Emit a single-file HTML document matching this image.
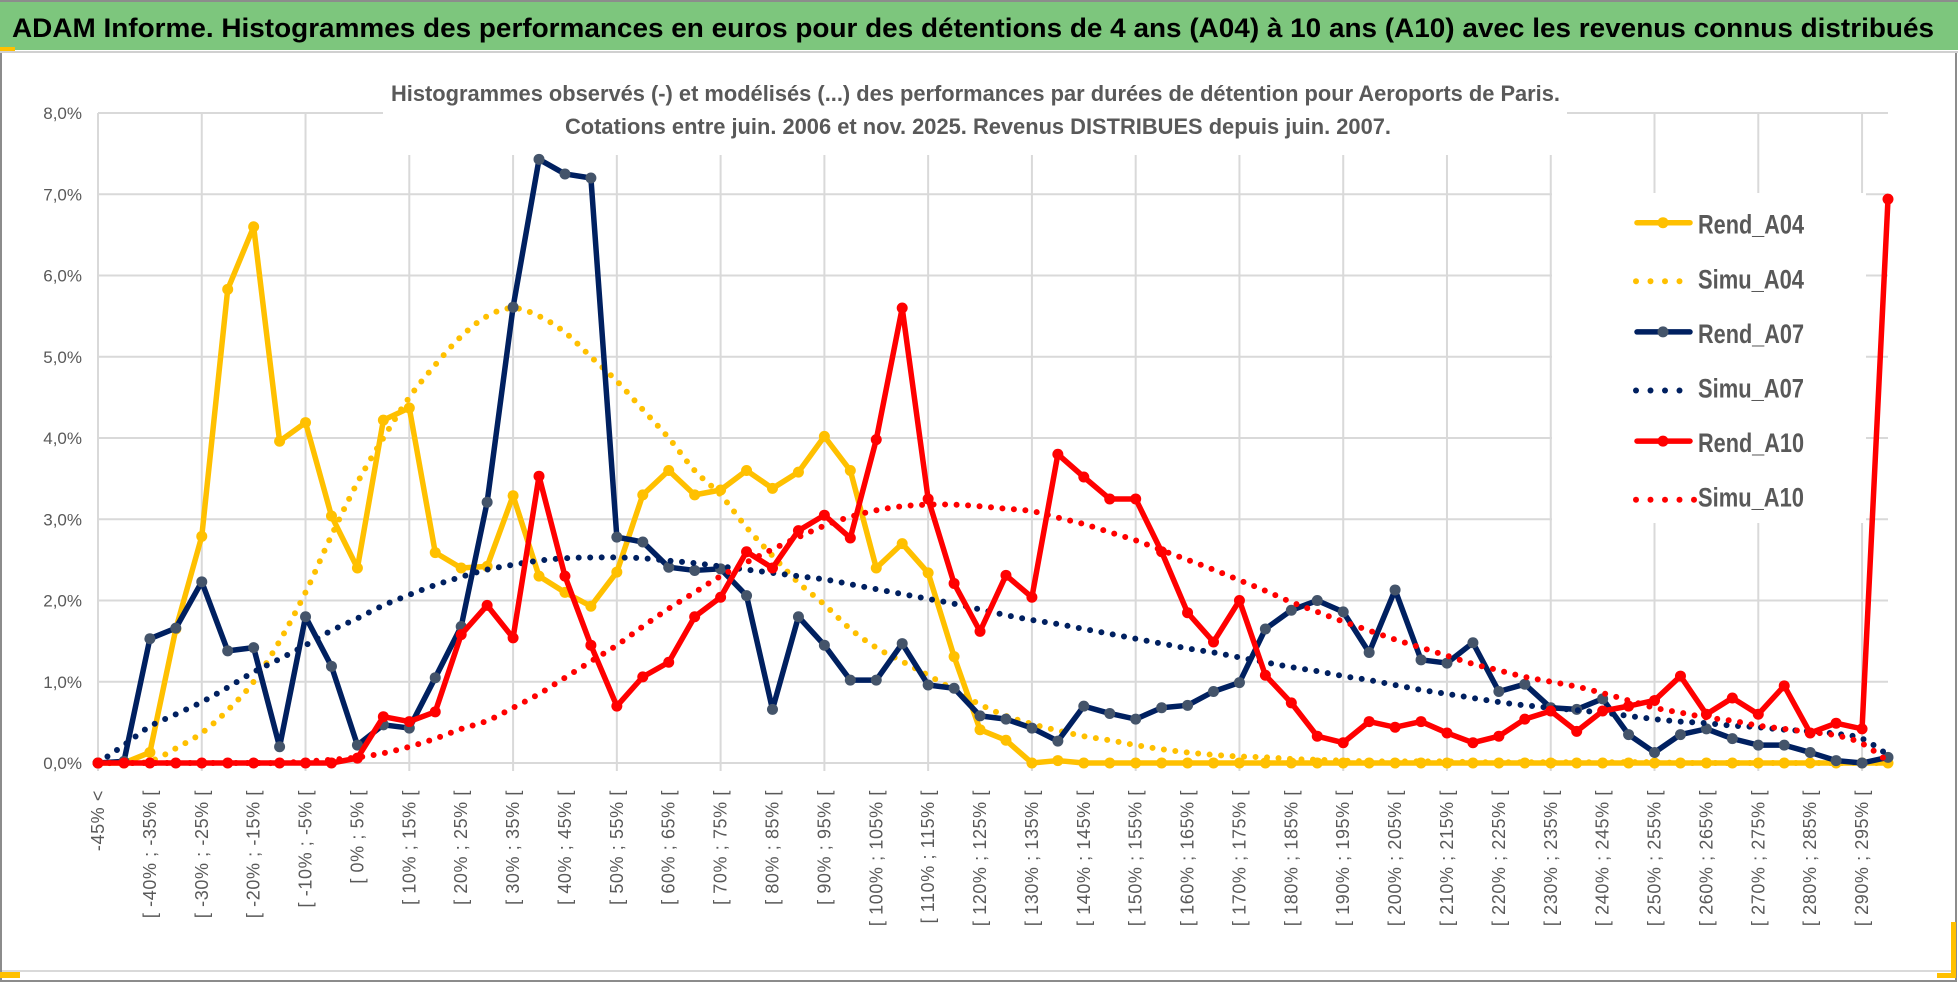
<!DOCTYPE html>
<html><head><meta charset="utf-8">
<style>
html,body{margin:0;padding:0;background:#fff;}
svg{display:block;}
text{font-family:"Liberation Sans Narrow","Liberation Sans",sans-serif;}
</style></head>
<body>
<svg id="chart" width="1958" height="983" viewBox="0 0 1958 983" xmlns="http://www.w3.org/2000/svg">
  <rect x="0" y="0" width="1958" height="983" fill="#fff"/>
  <rect x="1" y="52" width="1955" height="929" fill="none" stroke="#8c8c8c" stroke-width="2"/>
  <line x1="2" y1="971" x2="1954" y2="971" stroke="#d9d9d9" stroke-width="2"/>
  <rect x="0" y="972" width="20" height="6" fill="#FFC000"/>
  <rect x="1951" y="922" width="5" height="56" fill="#FFC000"/>
  <rect x="1937" y="973" width="19" height="5" fill="#FFC000"/>
  <g>
    <rect x="0" y="0" width="1958" height="2" fill="#8c8c8c"/>
    <rect x="0" y="2" width="1958" height="48" fill="#7DC67D"/>
    <rect x="0" y="47" width="15" height="4" fill="#FFC000"/>
    <line x1="0" y1="52" x2="1958" y2="52" stroke="#d0d0d0" stroke-width="2"/>
    <text x="12" y="37" font-size="27" font-weight="bold" fill="#000" textLength="1922" lengthAdjust="spacingAndGlyphs">ADAM Informe. Histogrammes des performances en euros pour des détentions de 4 ans (A04) à 10 ans (A10) avec les revenus connus distribués</text>
  </g>
  <g id="grid"></g>
  <g id="titlebox">
    <rect x="383" y="60" width="1184" height="95" fill="#fff"/>
    <text x="391" y="101" font-size="22" font-weight="bold" fill="#595959" textLength="1169" lengthAdjust="spacingAndGlyphs">Histogrammes observés (-) et modélisés (...) des performances par durées de détention pour Aeroports de Paris.</text>
    <text x="565" y="134" font-size="22" font-weight="bold" fill="#595959" textLength="826" lengthAdjust="spacingAndGlyphs">Cotations entre juin. 2006 et nov. 2025. Revenus DISTRIBUES depuis juin. 2007.</text>
  </g>
  <g id="yaxis"></g>
  <g id="xaxis"></g>
  <g id="series"></g>
  <g id="legend"></g>
</svg>
<script>
const rendA04 = [0,0,0.13,1.65,2.79,5.83,6.6,3.96,4.19,3.04, 2.4,4.22,4.37,2.59,2.4,2.42,3.29,2.3,2.1,1.93, 2.35,3.3,3.6,3.3,3.36,3.6,3.38,3.58,4.02,3.6, 2.4,2.7,2.34,1.31,0.41,0.28,0,0.03,0,0, 0,0,0,0,0,0,0,0,0,0, 0,0,0,0,0,0,0,0,0,0, 0,0,0,0,0,0,0,0,0,0];
const simuA04 = [0,0,0.02,0.18,0.37,0.65,1.0,1.5,2.1,2.8, 3.45,4.0,4.5,4.9,5.25,5.5,5.6,5.5,5.3,5.0, 4.7,4.35,4.0,3.6,3.3,2.9,2.55,2.22,1.95,1.65, 1.42,1.25,1.08,0.9,0.72,0.58,0.48,0.4,0.33,0.28, 0.22,0.17,0.13,0.1,0.08,0.07,0.05,0.04,0.03,0.02, 0.02,0.02,0.02,0.01,0.01,0.01,0.01,0.01,0.01,0.01, 0.01,0,0,0,0,0,0,0,0,0];
const rendA07 = [0,0.02,1.53,1.66,2.23,1.38,1.42,0.2,1.8,1.19, 0.22,0.47,0.43,1.05,1.68,3.21,5.61,7.43,7.25,7.2, 2.78,2.72,2.41,2.37,2.39,2.06,0.66,1.8,1.45,1.02, 1.02,1.47,0.96,0.92,0.58,0.54,0.43,0.27,0.7,0.61, 0.54,0.68,0.71,0.88,0.99,1.65,1.88,2.0,1.86,1.36, 2.13,1.27,1.23,1.48,0.88,0.97,0.68,0.66,0.79,0.35, 0.13,0.35,0.42,0.3,0.22,0.22,0.13,0.03,0,0.07];
const simuA07 = [0,0.22,0.45,0.6,0.75,0.93,1.12,1.28,1.45,1.63, 1.78,1.94,2.07,2.19,2.29,2.38,2.44,2.49,2.52,2.53, 2.53,2.52,2.49,2.46,2.42,2.38,2.34,2.3,2.26,2.2, 2.14,2.08,2.02,1.96,1.89,1.82,1.76,1.71,1.65,1.59, 1.53,1.47,1.41,1.36,1.3,1.24,1.18,1.13,1.07,1.02, 0.96,0.9,0.85,0.8,0.75,0.71,0.68,0.65,0.62,0.58, 0.54,0.51,0.49,0.46,0.44,0.41,0.39,0.36,0.3,0.1];
const rendA10 = [0,0,0,0,0,0,0,0,0,0, 0.06,0.57,0.51,0.63,1.58,1.94,1.54,3.53,2.3,1.45, 0.7,1.06,1.24,1.8,2.04,2.6,2.4,2.86,3.05,2.77, 3.98,5.6,3.25,2.21,1.62,2.31,2.04,3.8,3.52,3.25, 3.25,2.6,1.85,1.49,2.0,1.08,0.74,0.33,0.25,0.51, 0.44,0.51,0.37,0.25,0.33,0.54,0.64,0.39,0.64,0.7, 0.77,1.07,0.6,0.8,0.6,0.95,0.37,0.49,0.42,6.94];
const simuA10 = [0,0,0,0,0,0,0,0,0.02,0.04, 0.07,0.12,0.2,0.3,0.42,0.52,0.68,0.85,1.05,1.25, 1.45,1.68,1.9,2.1,2.3,2.47,2.63,2.78,2.92,3.03, 3.11,3.16,3.18,3.18,3.16,3.13,3.1,3.02,2.94,2.84, 2.74,2.62,2.5,2.38,2.25,2.12,1.98,1.86,1.74,1.63, 1.52,1.42,1.32,1.22,1.14,1.06,1.0,0.94,0.86,0.77, 0.68,0.62,0.56,0.52,0.46,0.42,0.38,0.34,0.24,0.02];
const yTicks = [0,1,2,3,4,5,6,7,8];
const yTickLabels = ["0,0%","1,0%","2,0%","3,0%","4,0%","5,0%","6,0%","7,0%","8,0%"];
const categories = ["-45% <"];
for (let k = 1; k < 70; k++) { categories.push("[ " + (-45 + 5*(k-1)) + "% ; " + (-40 + 5*(k-1)) + "% ["); }
const seriesNames = ["Rend_A04","Simu_A04","Rend_A07","Simu_A07","Rend_A10","Simu_A10"];

const NS = "http://www.w3.org/2000/svg";
const X0 = 98, X1 = 1888, Y0 = 763, YTOP = 113, YMAX = 8;
function xScale(i){ return X0 + i * (X1 - X0) / (categories.length - 1); }
function yScale(v){ return Y0 - v * (Y0 - YTOP) / YMAX; }
function mk(tag, attrs, parent){ const e = document.createElementNS(NS, tag); for (const k in attrs) e.setAttribute(k, attrs[k]); parent.appendChild(e); return e; }

const grid = document.getElementById('grid');
yTicks.forEach(t => {
  const l = mk('line', {x1:X0, x2:X1, y1:yScale(t), y2:yScale(t), stroke:'#d9d9d9', 'stroke-width':2}, grid);
  
  
});
for (let i = 0; i < categories.length; i += 4) {
  const l = mk('line', {x1:xScale(i), x2:xScale(i), y1:YTOP, y2:Y0+8, stroke:'#d9d9d9', 'stroke-width':2}, grid);
  
  
}

const yaxis = document.getElementById('yaxis');
yTicks.forEach((t, k) => {
  const tx = mk('text', {x:82, y:yScale(t)+6, 'text-anchor':'end', 'font-size':17, fill:'#595959'}, yaxis);
  tx.textContent = yTickLabels[k];
  
  
});

const xaxis = document.getElementById('xaxis');
categories.forEach((c, i) => {
  if (i % 2 !== 0) return;
  const x = xScale(i) + 6, y = 790;
  const tx = mk('text', {x:x, y:y, 'text-anchor':'end', 'font-size':18, fill:'#595959', 'letter-spacing':'0.6', transform:'rotate(-90 '+x+' '+y+')', style:'font-family:"Liberation Sans",sans-serif'}, xaxis);
  tx.textContent = c;
  
  
});

function smoothPath(vals){
  const p = vals.map((v,i)=>[xScale(i), yScale(v)]);
  let d = 'M' + p[0][0] + ' ' + p[0][1];
  for (let i = 0; i < p.length-1; i++) {
    const p0 = p[i-1] || p[i], p1 = p[i], p2 = p[i+1], p3 = p[i+2] || p2;
    const t = 6;
    d += ' C' + (p1[0]+(p2[0]-p0[0])/t) + ' ' + (p1[1]+(p2[1]-p0[1])/t) + ' ' + (p2[0]-(p3[0]-p1[0])/t) + ' ' + (p2[1]-(p3[1]-p1[1])/t) + ' ' + p2[0] + ' ' + p2[1];
  }
  return d;
}
function linePath(vals){ return vals.map((v,i)=>(i?'L':'M')+xScale(i)+' '+yScale(v)).join(' '); }

const series = document.getElementById('series');
function drawSolid(vals, color, markerColor, name){
  const g = mk('g', {}, series);
  
  
  const p = mk('path', {d:linePath(vals), fill:'none', stroke:color, 'stroke-width':5.5, 'stroke-linejoin':'round', 'stroke-linecap':'round'}, g);
  
  
  vals.forEach((v,i) => {
    const c = mk('circle', {cx:xScale(i), cy:yScale(v), r:5.5, fill:markerColor}, g);
    
    
  });
}
function drawDotted(vals, color, name){
  const p = mk('path', {d:smoothPath(vals), fill:'none', stroke:color, 'stroke-width':6, 'stroke-dasharray':'0 11.5', 'stroke-linecap':'round'}, series);
  
  
}
drawSolid(rendA04, '#FFC000', '#FFC000', 'rend-a04');
drawDotted(simuA04, '#FFC000', 'simu-a04');
drawSolid(rendA07, '#002060', '#44546A', 'rend-a07');
drawDotted(simuA07, '#002060', 'simu-a07');
drawSolid(rendA10, '#FF0000', '#FF0000', 'rend-a10');
drawDotted(simuA10, '#FF0000', 'simu-a10');

const legend = document.getElementById('legend');
mk('rect', {x:1552, y:193, width:314, height:330, fill:'#fff'}, legend);
const legColors = ['#FFC000','#FFC000','#002060','#002060','#FF0000','#FF0000'];
const legMarkers = ['#FFC000',null,'#44546A',null,'#FF0000',null];
seriesNames.forEach((n, k) => {
  const y = 222.7 + k * 54.6;
  const g = mk('g', {}, legend);
  
  
  if (legMarkers[k]) {
    mk('line', {x1:1637, x2:1690, y1:y, y2:y, stroke:legColors[k], 'stroke-width':5.5, 'stroke-linecap':'round'}, g);
    mk('circle', {cx:1663, cy:y, r:5.5, fill:legMarkers[k]}, g);
  } else {
    const nd = k === 5 ? 5 : 4;
    for (let d = 0; d < nd; d++) mk('circle', {cx:1636 + d*14.5, cy:y+4, r:3, fill:legColors[k]}, g);
  }
  const t = mk('text', {x:1698, y:y+11, 'font-size':27, 'font-weight':'bold', fill:'#595959', textLength:106, lengthAdjust:'spacingAndGlyphs'}, g);
  t.textContent = n;
});
</script>
</body></html>
